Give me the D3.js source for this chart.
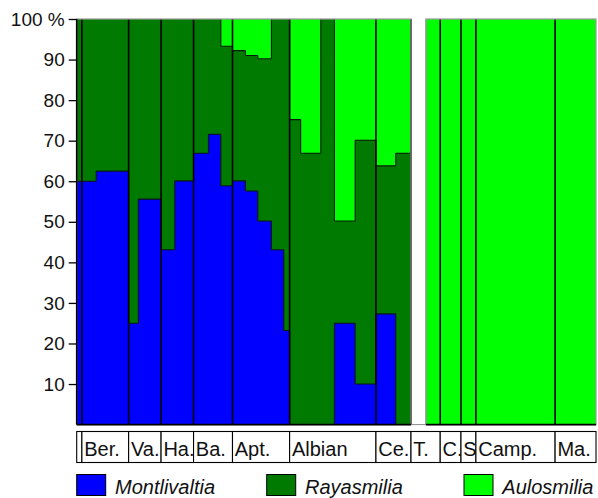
<!DOCTYPE html>
<html>
<head>
<meta charset="utf-8">
<script src="https://cdn.jsdelivr.net/npm/d3@7"></script>
<style>
  body { margin: 0; background: #fff; }
  svg text { font-family: "Liberation Sans", Arial, sans-serif; fill: #111; }
</style>
</head>
<body>
<svg id="chart" width="598" height="498"></svg>
<script>
// stages (Ma boundaries, older to younger)
const stageNames = ["", "Ber.", "Va.", "Ha.", "Ba.", "Apt.", "Albian", "Ce.", "T.", "C.", "S", "Camp.", "Ma."];
const stageBounds = [145, 144.2, 137.0, 132.0, 127.0, 121.0, 112.2, 98.9, 93.5, 89.0, 85.8, 83.5, 71.3, 65.0];

// sampling bins (Ma edges) and percentage of each genus per bin; null = no data
const binEdges = [145, 144.2, 142.0, 137.0, 135.5, 132.0, 129.9, 127.0, 124.7, 122.8, 121.0,
  119.0, 117.1, 115.0, 113.1, 112.2, 110.5, 107.4, 105.3, 102.1, 98.9, 95.85, 93.5, 91.2,
  89.0, 85.8, 83.5, 71.3, 65.0];
const montlivaltia = [60, 60, 62.5, 25, 55.6, 43.1, 60.1, 66.9, 71.6, 58.9,
  60.1, 57.6, 50.2, 43.1, 23.2, 0, 0, 0, 25, 10,
  27.3, 0, null, 0, 0, 0, 0, 0];
const rayasmilia = [40, 40, 37.5, 75, 44.4, 56.9, 39.9, 33.1, 28.4, 34.4,
  32.1, 33.4, 40, 56.9, 76.8, 75.2, 66.9, 100, 25.2, 60.1,
  36.5, 66.9, null, 0, 0, 0, 0, 0];
const aulosmilia = [0, 0, 0, 0, 0, 0, 0, 0, 0, 6.7,
  7.8, 9.0, 9.8, 0, 0, 24.8, 33.1, 0, 49.8, 29.9,
  36.2, 33.1, null, 100, 100, 100, 100, 100];

const genera = ["Montlivaltia", "Rayasmilia", "Aulosmilia"];
const yTicks = [10, 20, 30, 40, 50, 60, 70, 80, 90, 100];

const colors = { Montlivaltia: "#0000ff", Rayasmilia: "#007a00", Aulosmilia: "#00ff00" };

const svg = d3.select("#chart");
const x = d3.scaleLinear().domain([145, 65]).range([76.7, 596]);
const y = d3.scaleLinear().domain([0, 100]).range([424.6, 19]);

const bins = montlivaltia.map((m, i) => ({
  x0: binEdges[i], x1: binEdges[i + 1],
  Montlivaltia: m, Rayasmilia: rayasmilia[i], Aulosmilia: aulosmilia[i],
  gap: m === null
}));
const dataBins = bins.filter(d => !d.gap);
const gapBin = bins.find(d => d.gap);

const series = d3.stack().keys(genera)(dataBins);

// filled areas
svg.append("g").selectAll("g")
  .data(series)
  .join("g")
  .attr("fill", s => colors[s.key])
  .selectAll("rect")
  .data(s => s)
  .join("rect")
  .attr("x", d => x(d.data.x0))
  .attr("width", d => x(d.data.x1) - x(d.data.x0))
  .attr("y", d => y(d[1]))
  .attr("height", d => y(d[0]) - y(d[1]))
  .attr("shape-rendering", "crispEdges");

// step outlines between layers
function outline(k) {
  const p = d3.path();
  bins.forEach((b, i) => {
    if (b.gap) return;
    const v = series[k][dataBins.indexOf(b)][1];
    if (v > 0 && v < 100) { p.moveTo(x(b.x0), y(v)); p.lineTo(x(b.x1), y(v)); }
    const nb = bins[i + 1];
    if (nb && !nb.gap) {
      const nv = series[k][dataBins.indexOf(nb)][1];
      if (nv !== v) { p.moveTo(x(b.x1), y(v)); p.lineTo(x(b.x1), y(nv)); }
    }
  });
  return p.toString();
}
[0, 1].forEach(k => {
  svg.append("path")
    .attr("d", outline(k))
    .attr("fill", "none")
    .attr("stroke", "#0a1a0a")
    .attr("stroke-width", 1.1);
});

// gap bin (no data)
svg.append("path")
  .attr("d", `M${x(gapBin.x0)},${y(100)}V${y(0)}H${x(gapBin.x1)}V${y(100)}`)
  .attr("fill", "none")
  .attr("stroke", "#888")
  .attr("stroke-width", 1);

// stage separators
svg.append("g").selectAll("line")
  .data(stageBounds.slice(1, -1))
  .join("line")
  .attr("x1", d => x(d)).attr("x2", d => x(d))
  .attr("y1", y(100)).attr("y2", y(0))
  .attr("stroke", "#000")
  .attr("stroke-width", 1.6);

// panel frames
[[145, 93.5], [91.2, 65]].forEach(([a, b]) => {
  svg.append("rect")
    .attr("x", x(a)).attr("y", y(100))
    .attr("width", x(b) - x(a)).attr("height", y(0) - y(100))
    .attr("fill", "none")
    .attr("stroke", "#999")
    .attr("stroke-width", 1.2);
  svg.append("line")
    .attr("x1", x(a)).attr("x2", x(b))
    .attr("y1", y(0)).attr("y2", y(0))
    .attr("stroke", "#000")
    .attr("stroke-width", 1.6);
});

// y axis
const yAxis = svg.append("g")
  .attr("transform", `translate(${x(145)},0)`)
  .call(d3.axisLeft(y).tickValues(yTicks).tickSize(8).tickPadding(4)
    .tickFormat(d => d === 100 ? "100 %" : d));
yAxis.select(".domain").attr("stroke", "#000").attr("stroke-width", 1.6)
  .attr("d", `M0,${y(100)}V${y(0)}`);
yAxis.selectAll(".tick line").attr("stroke", "#000").attr("stroke-width", 1.3);
yAxis.selectAll(".tick text")
  .style("font-family", "'Liberation Sans', Arial, sans-serif")
  .style("font-size", "19px")
  .attr("fill", "#111");

// stage label strip
const stages = stageNames.map((n, i) => ({ name: n, a: stageBounds[i], b: stageBounds[i + 1] }));
const strip = svg.append("g");
strip.selectAll("rect")
  .data(stages)
  .join("rect")
  .attr("x", d => x(d.a))
  .attr("width", d => x(d.b) - x(d.a))
  .attr("y", 431.5).attr("height", 31)
  .attr("fill", "#fff")
  .attr("stroke", "#000")
  .attr("stroke-width", 1.1);
strip.selectAll("text")
  .data(stages)
  .join("text")
  .attr("x", d => x(d.a) + 2.3)
  .attr("y", 456)
  .style("font-size", "20px")
  .text(d => d.name);

// legend
const legendX = [76.7, 266.7, 464];
const legend = svg.append("g").selectAll("g")
  .data(genera)
  .join("g")
  .attr("transform", (d, i) => `translate(${legendX[i]},474.5)`);
legend.append("rect")
  .attr("width", 29).attr("height", 21)
  .attr("fill", d => colors[d])
  .attr("stroke", "#000")
  .attr("stroke-width", 1);
legend.append("text")
  .attr("x", 38.3).attr("y", 19.5)
  .style("font-size", "20px")
  .style("font-style", "italic")
  .text(d => d);
</script>
</body>
</html>
